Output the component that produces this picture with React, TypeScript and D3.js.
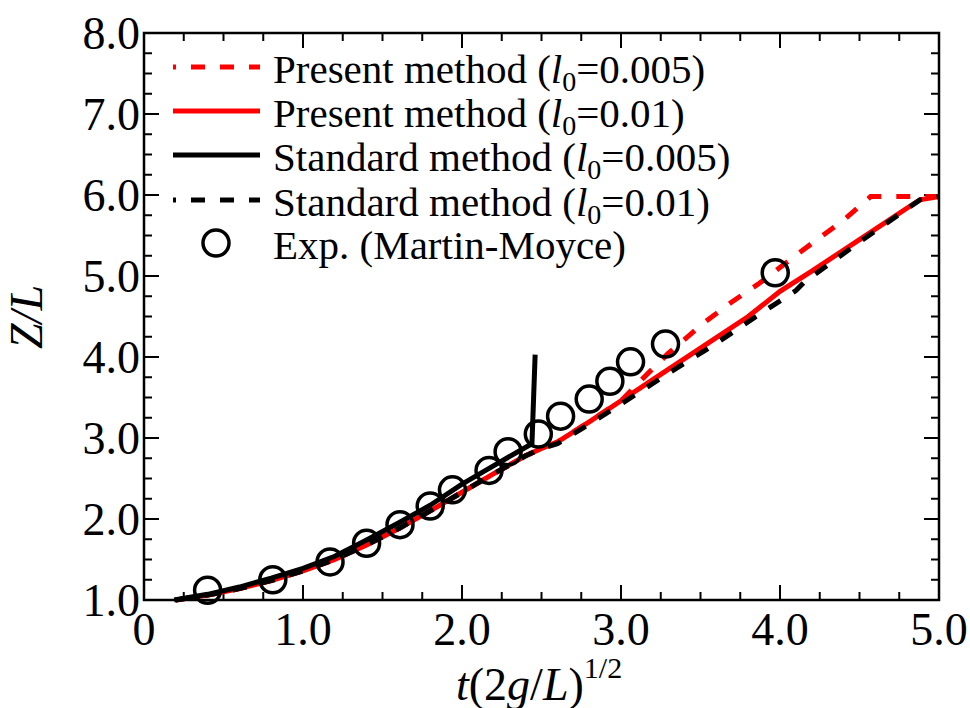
import React from 'react';
import * as d3 from 'd3';

// Experimental data (Martin-Moyce)
const expT = [0.40, 0.81, 1.17, 1.40, 1.61, 1.80, 1.94, 2.17, 2.29, 2.48, 2.62, 2.80, 2.93, 3.06, 3.28, 3.97];
const expZ = [1.12, 1.25, 1.47, 1.70, 1.93, 2.16, 2.36, 2.60, 2.83, 3.05, 3.27, 3.48, 3.70, 3.94, 4.16, 5.04];

// Present method l0=0.01 (red solid)
const presT01 = [0.2, 0.4, 0.6, 0.8, 1.0, 1.2, 1.4, 1.6, 1.8, 2.0, 2.2, 2.4, 2.5, 2.6, 2.8, 3.0, 3.2, 3.5, 3.8, 4.0, 4.2, 4.5, 4.8, 4.88, 5.0];
const presZ01 = [1.0, 1.06, 1.14, 1.24, 1.36, 1.5, 1.68, 1.88, 2.1, 2.33, 2.56, 2.78, 2.87, 2.95, 3.2, 3.46, 3.72, 4.11, 4.5, 4.81, 5.06, 5.45, 5.84, 5.94, 5.98];

// Present method l0=0.005 (red dashed)
const presT005 = [0.2, 0.4, 0.6, 0.8, 1.0, 1.2, 1.4, 1.6, 1.8, 2.0, 2.2, 2.4, 2.5, 2.6, 2.8, 3.0, 3.15, 3.3, 3.52, 3.69, 3.87, 4.13, 4.40, 4.57, 5.0];
const presZ005 = [1.0, 1.06, 1.14, 1.24, 1.36, 1.5, 1.68, 1.88, 2.1, 2.33, 2.56, 2.78, 2.87, 2.95, 3.2, 3.46, 3.76, 4.05, 4.42, 4.67, 4.91, 5.30, 5.69, 5.98, 5.98];

// Standard method l0=0.005 (black solid)
const stdT005 = [0.19, 0.4, 0.6, 0.8, 1.0, 1.2, 1.4, 1.6, 1.8, 2.0, 2.2, 2.44, 2.46];
const stdZ005 = [1.0, 1.07, 1.16, 1.27, 1.39, 1.54, 1.74, 1.95, 2.17, 2.43, 2.66, 2.93, 4.03];

// Standard method l0=0.01 (black dashed)
const stdT01 = [0.2, 0.4, 0.6, 0.8, 1.0, 1.2, 1.4, 1.6, 1.8, 2.0, 2.2, 2.4, 2.5, 2.6, 2.8, 3.0, 3.3, 3.6, 3.85, 4.1, 4.15, 4.5, 4.88, 5.0];
const stdZ01 = [1.0, 1.06, 1.14, 1.24, 1.36, 1.5, 1.68, 1.88, 2.1, 2.33, 2.56, 2.78, 2.87, 2.93, 3.17, 3.42, 3.8, 4.17, 4.5, 4.82, 4.92, 5.42, 5.94, 5.98];

const xTickLabels = ['0', '1.0', '2.0', '3.0', '4.0', '5.0'];
const yTickLabels = ['1.0', '2.0', '3.0', '4.0', '5.0', '6.0', '7.0', '8.0'];

const legendLabels = [
  { pre: 'Present method (', val: '=0.005)' },
  { pre: 'Present method (', val: '=0.01)' },
  { pre: 'Standard method (', val: '=0.005)' },
  { pre: 'Standard method (', val: '=0.01)' },
];

const FONT = '"Liberation Serif", "Times New Roman", serif';

export default function App() {
  const L = 144, R = 939, T = 33, B = 600;
  const x = d3.scaleLinear().domain([0, 5]).range([L, R]);
  const y = d3.scaleLinear().domain([1, 8]).range([B, T]);

  const line = d3.line<[number, number]>().x(d => x(d[0])).y(d => y(d[1]));
  const mk = (ts: number[], zs: number[]) => line(ts.map((t, i) => [t, zs[i]] as [number, number])) || '';

  const xMinor = d3.range(0, 5.0001, 0.25);
  const yMinor = d3.range(1, 8.0001, 0.25);
  const isMajor = (v: number) => Math.abs(v - Math.round(v)) < 1e-6;
  const maj = 15, mnr = 8;

  const styles = [
    { stroke: '#ff0000', dash: '14 15' },
    { stroke: '#ff0000', dash: '' },
    { stroke: '#000000', dash: '' },
    { stroke: '#000000', dash: '14 15' },
  ];
  const legY = [67, 111, 155, 200];

  return (
    <svg width={970} height={708} style={{ position: 'absolute', left: 0, top: 0, background: '#fff' }} fontFamily={FONT}>
      <rect x={0} y={0} width={970} height={708} fill="#fff" />
      {/* ticks */}
      {xMinor.map((v, i) => {
        const len = isMajor(v) ? maj : mnr;
        return (
          <g key={'xt' + i} stroke="#000" strokeWidth={2}>
            <line x1={x(v)} x2={x(v)} y1={B} y2={B - len} />
            <line x1={x(v)} x2={x(v)} y1={T} y2={T + len} />
          </g>
        );
      })}
      {yMinor.map((v, i) => {
        const len = isMajor(v) ? maj : mnr;
        return (
          <g key={'yt' + i} stroke="#000" strokeWidth={2}>
            <line x1={L} x2={L + len} y1={y(v)} y2={y(v)} />
            <line x1={R} x2={R - len} y1={y(v)} y2={y(v)} />
          </g>
        );
      })}
      {/* data lines */}
      <path d={mk(presT005, presZ005)} fill="none" stroke="#ff0000" strokeWidth={5} strokeDasharray="14 15" />
      <path d={mk(presT01, presZ01)} fill="none" stroke="#ff0000" strokeWidth={5} />
      <path d={mk(stdT005, stdZ005)} fill="none" stroke="#000" strokeWidth={5} />
      <path d={mk(stdT01, stdZ01)} fill="none" stroke="#000" strokeWidth={5} strokeDasharray="14 15" />
      {expT.map((t, i) => (
        <circle key={'c' + i} cx={x(t)} cy={y(expZ[i])} r={13} fill="none" stroke="#000" strokeWidth={3.5} />
      ))}
      {/* frame */}
      <rect x={L} y={T} width={R - L} height={B - T} fill="none" stroke="#000" strokeWidth={2.5} />
      {/* tick labels */}
      {xTickLabels.map((s, i) => (
        <text key={'xl' + i} x={x(i)} y={645} fontSize={46} textAnchor="middle">{s}</text>
      ))}
      {yTickLabels.map((s, i) => (
        <text key={'yl' + i} x={140} y={y(i + 1) + 16} fontSize={46} textAnchor="end">{s}</text>
      ))}
      {/* axis titles */}
      <text transform="translate(42,317) rotate(-90)" fontSize={46} textAnchor="middle" fontStyle="italic">Z/L</text>
      <text x={456} y={700} fontSize={46}>
        <tspan fontStyle="italic">t</tspan>
        <tspan>(2</tspan>
        <tspan fontStyle="italic">g</tspan>
        <tspan>/</tspan>
        <tspan fontStyle="italic">L</tspan>
        <tspan>)</tspan>
        <tspan fontSize={30} dy={-22}>1/2</tspan>
      </text>
      {/* legend */}
      {legendLabels.map((lab, i) => (
        <g key={'lg' + i}>
          <line x1={173} x2={260} y1={legY[i]} y2={legY[i]} stroke={styles[i].stroke} strokeWidth={5}
            strokeDasharray={styles[i].dash || undefined} strokeDashoffset={styles[i].dash ? 11 : undefined} />
          <text x={273} y={legY[i] + 16} fontSize={41}>
            <tspan>{lab.pre}</tspan>
            <tspan fontStyle="italic">l</tspan>
            <tspan fontSize={28} dy={8}>0</tspan>
            <tspan dy={-8}>{lab.val}</tspan>
          </text>
        </g>
      ))}
      <circle cx={216} cy={243} r={13} fill="none" stroke="#000" strokeWidth={3.5} />
      <text x={273} y={259} fontSize={41}>Exp. (Martin-Moyce)</text>
    </svg>
  );
}
